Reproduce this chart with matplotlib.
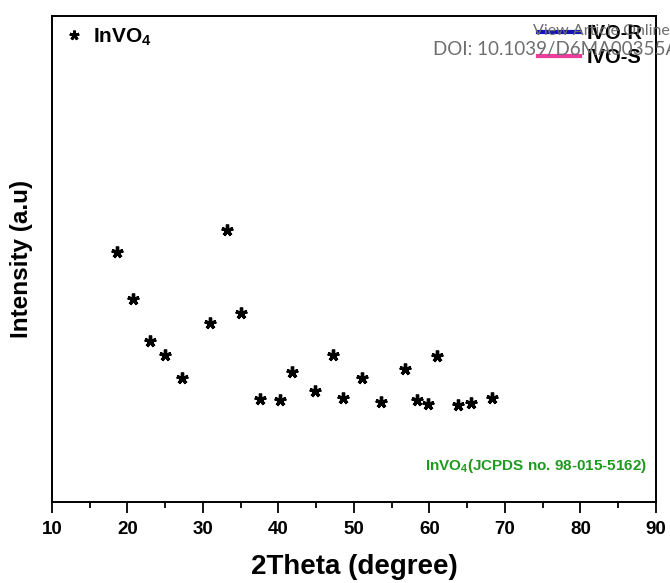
import matplotlib
matplotlib.use('Agg')
import matplotlib.pyplot as plt
from matplotlib.lines import Line2D

plt.rcParams['font.family'] = ['Liberation Sans', 'DejaVu Sans']
plt.rcParams['mathtext.fontset'] = 'custom'
plt.rcParams['mathtext.rm'] = 'Liberation Sans:bold'
plt.rcParams['mathtext.default'] = 'rm'

# InVO4 reference peak positions (2theta) and marker heights (a.u.)
peak_pos = [18.6, 20.7, 23.0, 25.0, 27.2, 30.9, 33.2, 35.1, 37.6, 40.2, 41.8, 44.9,
            47.2, 48.6, 51.1, 53.6, 56.7, 58.3, 59.8, 61.0, 63.8, 65.5, 68.3]
peak_h = [51.4, 41.8, 33.1, 30.2, 25.5, 36.8, 56.0, 38.9, 21.2, 21.0, 26.7, 22.8,
          30.2, 21.4, 25.5, 20.6, 27.4, 21.0, 20.2, 30.0, 20.0, 20.4, 21.4]
xticks = [10, 20, 30, 40, 50, 60, 70, 80, 90]

fig = plt.figure(figsize=(6.7, 5.83), dpi=100)
ax = fig.add_axes([0.0776, 0.139, 0.9014, 0.8336])

# watermark from the journal page, sits behind the legend
fig.text(533 / 670, 1 - 31 / 583, 'View Article Online', ha='left', va='center',
         fontsize=11.5, color='#6e6e6e', family=['Lato', 'DejaVu Sans'], zorder=0)
fig.text(433 / 670, 1 - 49 / 583, 'DOI: 10.1039/D6MA00355A', ha='left', va='center',
         fontsize=13.5, color='#6e6e6e', family=['Lato', 'DejaVu Sans'], zorder=0)
ax.patch.set_alpha(0)

star = (5, 2, 0)
ax.plot(peak_pos, peak_h, linestyle='none', marker=star, markersize=8.5,
        markeredgewidth=2.4, color='black')

ax.set_xlim(10, 90)
ax.set_ylim(0, 100)
ax.set_xticks(xticks)
ax.set_xticks(range(15, 90, 10), minor=True)
ax.set_yticks([])
ax.tick_params(axis='x', which='major', direction='out', length=8, width=1.3,
               labelsize=13.5, pad=6)
ax.tick_params(axis='x', which='minor', direction='out', length=4, width=1.3)
for lab in ax.get_xticklabels():
    lab.set_fontweight('bold')
for s in ax.spines.values():
    s.set_linewidth(1.4)

ax.set_xlabel('2Theta (degree)', fontsize=20, fontweight='bold', labelpad=11)
ax.set_ylabel('Intensity (a.u)', fontsize=17.5, fontweight='bold', labelpad=14)

h1 = Line2D([], [], linestyle='none', marker=star, markersize=7,
            markeredgewidth=2, color='black')
leg1 = ax.legend([h1], ['InVO$_4$'], loc='upper left', frameon=False,
                 prop={'size': 15, 'weight': 'bold'}, handlelength=0.8,
                 handletextpad=0.5, borderaxespad=0.1, bbox_to_anchor=(0.005, 1.0))
ax.add_artist(leg1)

h2 = Line2D([], [], color='#1414b4', linewidth=3)
h3 = Line2D([], [], color='#ec3c9c', linewidth=3)
ax.legend([h2, h3], ['IVO-R', 'IVO-S'], loc='upper right', frameon=False,
          prop={'size': 14.5, 'weight': 'bold'}, handlelength=2.1,
          handletextpad=0.35, labelspacing=0.25, borderaxespad=0.1,
          bbox_to_anchor=(0.995, 1.005))

ax.text(0.985, 0.075, 'InVO$_4$(JCPDS no. 98-015-5162)', transform=ax.transAxes,
        ha='right', va='center', fontsize=11, fontweight='bold', color='#1f9a1f')

fig.savefig('out.png', dpi=100)
